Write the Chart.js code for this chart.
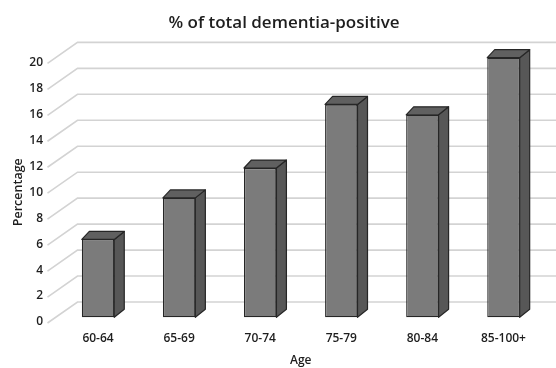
<!DOCTYPE html>
<html>
<head>
<meta charset="utf-8">
<script src="https://cdn.jsdelivr.net/npm/chart.js@4/dist/chart.umd.min.js"></script>
<style>
  html, body { margin: 0; padding: 0; background: #ffffff; }
  #wrap { width: 556px; height: 368px; }
</style>
</head>
<body>
<div id="wrap"><canvas id="chart" width="556" height="368"></canvas></div>
<script>
// Share of all dementia-positive cases by age band (%)
const ageGroups = ['60-64', '65-69', '70-74', '75-79', '80-84', '85-100+'];
const percentPositive = [6.0, 9.2, 11.5, 16.4, 15.6, 20.0];
const yMin = 0;
const yMax = 20;
const yStep = 2;

// Pseudo-3D projection: bars sit a little behind the label plane,
// the gridlines live on the back wall.
const BAR_SHIFT_Y = -4.7;          // bar plane relative to the value scale
const DEPTH_LEFT_X = 7.5;          // top face, back-left corner
const DEPTH_RIGHT_X = 10;          // top/side face, back-right corner
const DEPTH_Y = -8;
const WALL_FRONT_X = -10;          // side-wall diagonals start left of the plot
const WALL_BACK_X = 20;
const WALL_Y = -20;

const FACE_FRONT = '#7b7b7b';
const FACE_SIDE = '#575757';
const FACE_TOP = '#606060';
const EDGE = '#262626';
const GRID = '#d3d3d3';

const pseudo3d = {
  id: 'pseudo3d',
  beforeDatasetsDraw(chart) {
    const { ctx, chartArea, scales } = chart;
    const y = scales.y;
    ctx.save();
    ctx.strokeStyle = GRID;
    ctx.lineWidth = 1.6;
    y.ticks.forEach(t => {
      const py = y.getPixelForValue(t.value);
      const bx = chartArea.left + WALL_BACK_X;
      const by = py + WALL_Y;
      ctx.beginPath();
      ctx.moveTo(chartArea.left + WALL_FRONT_X, py + 1);
      ctx.lineTo(bx, by);
      ctx.lineTo(chart.width, by);
      ctx.stroke();
    });
    ctx.restore();
    // front faces are drawn by Chart.js inside this shifted frame
    ctx.save();
    ctx.translate(0, BAR_SHIFT_Y);
  },
  afterDatasetsDraw(chart) {
    const { ctx } = chart;
    const meta = chart.getDatasetMeta(0);
    ctx.lineWidth = 1.2;
    ctx.strokeStyle = EDGE;
    ctx.lineJoin = 'round';
    meta.data.forEach(bar => {
      const { x, y, base, width } = bar.getProps(['x', 'y', 'base', 'width'], true);
      const x1 = x - width / 2;
      const x2 = x + width / 2;
      // side face
      ctx.beginPath();
      ctx.moveTo(x2, y);
      ctx.lineTo(x2 + DEPTH_RIGHT_X, y + DEPTH_Y);
      ctx.lineTo(x2 + DEPTH_RIGHT_X, base + DEPTH_Y);
      ctx.lineTo(x2, base);
      ctx.closePath();
      ctx.fillStyle = FACE_SIDE;
      ctx.fill();
      ctx.stroke();
      // top face
      ctx.beginPath();
      ctx.moveTo(x1, y);
      ctx.lineTo(x1 + DEPTH_LEFT_X, y + DEPTH_Y);
      ctx.lineTo(x2 + DEPTH_RIGHT_X, y + DEPTH_Y);
      ctx.lineTo(x2, y);
      ctx.closePath();
      ctx.fillStyle = FACE_TOP;
      ctx.fill();
      ctx.stroke();
    });
    ctx.restore();
  }
};

const TEXT = '#1e1e1e';
const FAMILY = "'Open Sans', 'Noto Sans', sans-serif";

new Chart(document.getElementById('chart'), {
  type: 'bar',
  data: {
    labels: ageGroups,
    datasets: [{
      data: percentPositive,
      backgroundColor: FACE_FRONT,
      borderColor: EDGE,
      borderWidth: 1.2,
      borderSkipped: false,
      categoryPercentage: 1.0,
      barPercentage: 0.4,
      clip: false
    }]
  },
  options: {
    responsive: false,
    animation: false,
    events: [],
    layout: { padding: { left: 12, right: 0, top: 0, bottom: 0 } },
    plugins: {
      legend: { display: false },
      tooltip: { enabled: false },
      title: {
        display: true,
        text: '% of total dementia-positive',
        color: TEXT,
        font: { family: FAMILY, size: 17, weight: '600' },
        padding: { top: 13, bottom: 29 }
      }
    },
    scales: {
      x: {
        grid: { display: false, drawTicks: false },
        border: { display: false },
        ticks: { color: TEXT, padding: 9, font: { family: FAMILY, size: 12, weight: '600' } },
        title: {
          display: true,
          text: 'Age',
          color: TEXT,
          font: { family: FAMILY, size: 12, weight: '600' },
          padding: { top: 0, bottom: 0 }
        },
        afterFit(axis) { axis.height = 46; }
      },
      y: {
        min: yMin,
        max: yMax,
        grid: { display: false, drawTicks: false },
        border: { display: false },
        ticks: { stepSize: yStep, color: TEXT, padding: 14.5, font: { family: FAMILY, size: 12, weight: '600' } },
        title: {
          display: true,
          text: 'Percentage',
          color: TEXT,
          font: { family: FAMILY, size: 12.5, weight: '600', lineHeight: 1.0 },
          padding: { top: 0, bottom: 0 }
        },
        afterFit(axis) { axis.width = 45.5; }
      },
      // empty right-hand margin strip where the back wall runs out
      yEdge: {
        type: 'linear',
        position: 'right',
        min: yMin,
        max: yMax,
        grid: { display: false, drawTicks: false },
        border: { display: false },
        ticks: { display: false },
        afterFit(axis) { axis.width = 12; }
      }
    }
  },
  plugins: [pseudo3d]
});
</script>
</body>
</html>
